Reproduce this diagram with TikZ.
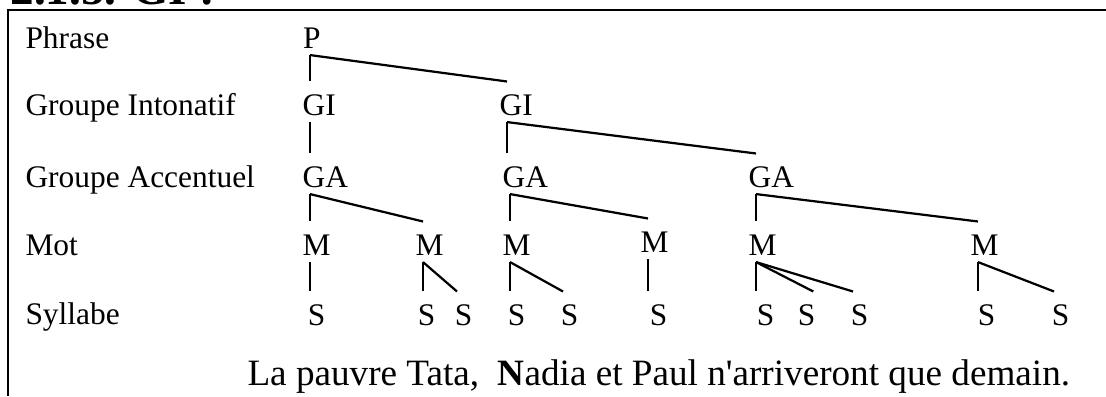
\documentclass[tikz,border=0pt]{standalone}
\usepackage{fontspec}
\setmainfont{Liberation Serif}[Ligatures=TeXOff]

\tikzset{
  lvl/.style={anchor=base west,inner sep=0pt,font=\fontsize{12}{14}\selectfont},
  tnode/.style={anchor=base west,inner ysep=0pt,inner xsep=-3pt,text height=12.6pt,text depth=2.5pt,font=\fontsize{12}{14}\selectfont},
  snode/.style={tnode,inner xsep=-1pt},
  branch/.style={line width=0.85pt},
}

\begin{document}
\begin{tikzpicture}[x=0.382pt,y=0.382pt,yscale=-1,xscale=1]
\useasboundingbox (0,0) rectangle (1106,396);

%Frame
\draw [line width=1pt] (1106,10) -- (8,10) -- (8,396);

% Text Node
\node (heading) [anchor=base west,inner sep=0pt,font=\fontsize{18}{20}\selectfont\bfseries] at (10,4) {2.1.5. GI :};

% Text Node
\node (lphrase) [lvl] at (25,48) {Phrase};
\node (lgi) [lvl] at (25,115) {Groupe Intonatif};
\node (lga) [lvl] at (25,187) {Groupe Accentuel};
\node (lmot) [lvl] at (25,255) {Mot};
\node (lsyl) [lvl] at (25,324) {Syllabe};

% Text Node
\node (P) [tnode] at (310,48) {P};

\node (GIa) [tnode] at (310,115) {GI};
\node (GIb) [tnode] at (507,115) {GI};

\node (GAa) [tnode] at (310,187) {GA};
\node (GAb) [tnode] at (510,187) {GA};
\node (GAc) [tnode] at (756,187) {GA};

\node (Ma) [tnode] at (310,255) {M};
\node (Mb) [tnode] at (423,255) {M};
\node (Mc) [tnode] at (510,255) {M};
\node (Md) [tnode] at (648,252) {M};
\node (Me) [tnode] at (756,255) {M};
\node (Mf) [tnode] at (978,255) {M};

\node (Sa) [snode] at (310,325) {S};
\node (Sb) [snode] at (420,325) {S};
\node (Sc) [snode] at (457,325) {S};
\node (Sd) [snode] at (510,325) {S};
\node (Se) [snode] at (563,325) {S};
\node (Sf) [snode] at (652,325) {S};
\node (Sg) [snode] at (759,325) {S};
\node (Sh) [snode] at (800,325) {S};
\node (Si) [snode] at (853,325) {S};
\node (Sj) [snode] at (980,325) {S};
\node (Sk) [snode] at (1054,325) {S};

% Text Node
\node (phrase) [anchor=base west,inner sep=0pt,font=\fontsize{14.2}{17}\selectfont] at (247,385) {La pauvre Tata,\ \ \textbf{N}adia et Paul n'arriveront que demain.};

%Straight Lines
\draw [branch] (P.south west) -- (P.south west |- GIa.north);
\draw [branch] (P.south west) -- (GIb.north west);

%Straight Lines
\draw [branch] (GIa.south west) -- (GIa.south west |- GAa.north);
\draw [branch] (GIb.south west) -- (GIb.south west |- GAb.north);
\draw [branch] (GIb.south west) -- (GAc.north west);

%Straight Lines
\draw [branch] (GAa.south west) -- (GAa.south west |- Ma.north);
\draw [branch] (GAa.south west) -- (Mb.north west);
\draw [branch] (GAb.south west) -- (GAb.south west |- Mc.north);
\draw [branch] (GAb.south west) -- (Md.north west);
\draw [branch] (GAc.south west) -- (GAc.south west |- Me.north);
\draw [branch] (GAc.south west) -- (Mf.north west);

%Straight Lines
\draw [branch] (Ma.south west) -- (Ma.south west |- Sa.north);
\draw [branch] (Mb.south west) -- (Mb.south west |- Sb.north);
\draw [branch] (Mb.south west) -- (Sc.north west);
\draw [branch] (Mc.south west) -- (Mc.south west |- Sd.north);
\draw [branch] (Mc.south west) -- (Se.north west);
\draw [branch] (Md.south west) -- (Md.south west |- Sf.north);
\draw [branch] (Me.south west) -- (Me.south west |- Sg.north);
\draw [branch] (Me.south west) -- (Sh.north east);
\draw [branch] (Me.south west) -- (Si.north west);
\draw [branch] (Mf.south west) -- (Mf.south west |- Sj.north);
\draw [branch] (Mf.south west) -- (Sk.north west);

\end{tikzpicture}
\end{document}
